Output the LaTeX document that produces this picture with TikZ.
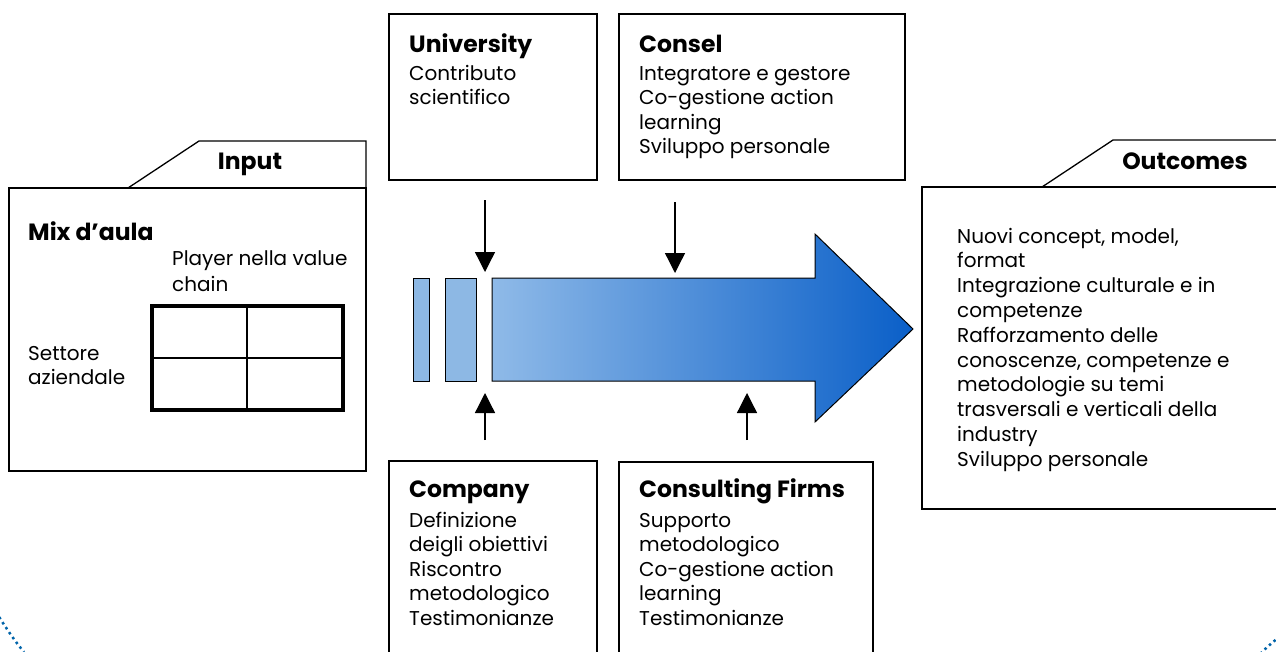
\documentclass[tikz,border=0pt]{standalone}
\usepackage{fontspec}
\setmainfont{Poppins}
\usetikzlibrary{arrows.meta}
\definecolor{arrL}{RGB}{143,186,232}
\definecolor{arrM}{RGB}{105,158,220}
\definecolor{arrR}{RGB}{10,95,200}
\definecolor{barfill}{RGB}{141,184,228}
\definecolor{dotblue}{RGB}{0,100,170}
\begin{document}
\begin{tikzpicture}[x=1pt,y=-1pt,
  box/.style={draw=black,line width=1.3pt},
  body/.style={anchor=base west, inner sep=0pt, align=left, font=\fontsize{20}{24.5}\selectfont},
  ttl/.style={anchor=base west, inner sep=0pt, font=\fontsize{23.5}{26}\selectfont\bfseries},
  feed/.style={line width=1.3pt, -{Triangle[width=20pt,length=20pt]}},
  bar/.style={draw=black, line width=1pt, fill=barfill},
  dots/.style={draw=dotblue, line width=2.5pt, dash pattern=on 2.5pt off 3.5pt}]
\useasboundingbox (0,0) rectangle (1276,651);
\clip (0,0) rectangle (1276,651);
\fill[white] (0,0) rectangle (1276,651);

% Input box (multi-line nodes are placed by the baseline of their last line)
\draw[box] (9,188) rectangle (366,471);
\draw[box] (128,188) -- (199,141) -- (366,141) -- (366,188);
\node[ttl, anchor=base] (inlab) at (250,169) {Input};
\node[ttl] (mix) at (28,240) {Mix d’aula};
\node[body, font=\fontsize{20}{26}\selectfont] (player) at (172,291) {Player nella value\\chain};
\node[body] (settore) at (28,384.5) {Settore\\aziendale};
\draw[line width=4pt] (152,306) rectangle (343,410);
\draw[line width=1.5pt] (247,306) -- (247,410) (152,358) -- (343,358);

% Outcomes box
\draw[box] (922,187) rectangle (1290,509);
\draw[box] (1042,187) -- (1113,140) -- (1290,140);
\node[ttl, anchor=base] (outlab) at (1185,169) {Outcomes};
\node[body, font=\fontsize{20}{24.8}\selectfont] (outtxt) at (957,466.2) {Nuovi concept, model,\\format\\Integrazione culturale e in\\competenze\\Rafforzamento delle\\conoscenze, competenze e\\metodologie su temi\\trasversali e verticali della\\industry\\Sviluppo personale};

% top boxes
\draw[box] (389,14) rectangle (597,180);
\node[ttl] (unit) at (409,52) {University};
\node[body] (unib) at (409,104.5) {Contributo\\scientifico};
\draw[box] (619,14) rectangle (905,180);
\node[ttl] (const) at (639,52) {Consel};
\node[body] (consb) at (639,153.5) {Integratore e gestore\\Co-gestione action\\learning\\Sviluppo personale};

% bottom boxes
\draw[box] (389,461) rectangle (597,680);
\node[ttl] (compt) at (409,497) {Company};
\node[body] (compb) at (409,625) {Definizione\\deigli obiettivi\\Riscontro\\metodologico\\Testimonianze};
\draw[box] (619,462) rectangle (873,680);
\node[ttl] (cft) at (639,497) {Consulting Firms};
\node[body] (cfb) at (639,625) {Supporto\\metodologico\\Co-gestione action\\learning\\Testimonianze};

% central arrow
\draw[bar] (413,278) rectangle (429,381);
\draw[bar] (445,278) rectangle (476,381);
\shadedraw[draw=black, line width=1pt, left color=arrL, middle color=arrM, right color=arrR]
  (492,278) -- (815,278) -- (815,234) -- (913,329) -- (815,422) -- (815,381) -- (492,381) -- cycle;

% feeding arrows
\coordinate (d1s) at (485,200); \coordinate (d1e) at (485,272);
\coordinate (d2s) at (675,202); \coordinate (d2e) at (675,273);
\coordinate (u1s) at (485,440); \coordinate (u1e) at (485,393);
\coordinate (u2s) at (747,440); \coordinate (u2e) at (747,393);
\draw[feed] (d1s) -- (d1e);
\draw[feed] (d2s) -- (d2e);
\draw[feed] (u1s) -- (u1e);
\draw[feed] (u2s) -- (u2e);

% dotted corner arcs
\draw[dots] (-4,612) .. controls (6,628) and (14,640) .. (24,652);
\draw[dots] (1280,636) .. controls (1272,643) and (1267,647) .. (1261,653);
\end{tikzpicture}
\end{document}
